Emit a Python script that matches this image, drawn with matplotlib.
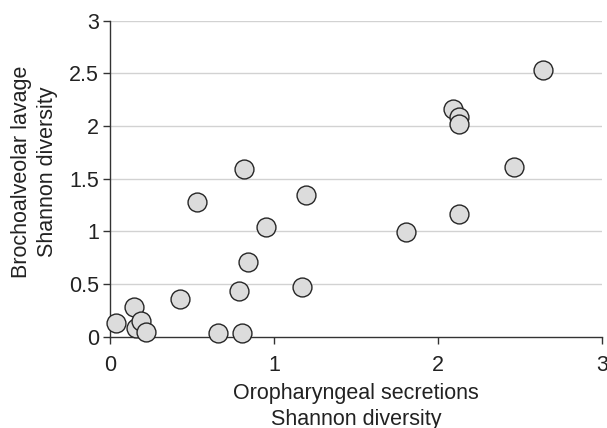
import matplotlib
matplotlib.use("Agg")
import matplotlib.pyplot as plt

oro = [0.036, 0.147, 0.16, 0.19, 0.22, 0.43, 0.53, 0.66, 0.806, 0.79, 0.818, 0.84, 0.95,
       1.17, 1.195, 1.805, 2.094, 2.127, 2.132, 2.132, 2.464, 2.64]
bal = [0.133, 0.285, 0.085, 0.15, 0.047, 0.354, 1.275, 0.038, 0.038, 0.434, 1.59, 0.712, 1.044,
       0.468, 1.345, 0.99, 2.158, 2.09, 2.019, 1.165, 1.614, 2.533]
xticks = [0, 1, 2, 3]
yticks = [0, 0.5, 1, 1.5, 2, 2.5, 3]
ytick_labels = ["0", "0.5", "1", "1.5", "2", "2.5", "3"]

plt.rcParams['font.family'] = ['Liberation Sans', 'DejaVu Sans']
W, H = 607, 428
fig = plt.figure(figsize=(W/100, H/100), dpi=100)
x0, x1, y0, y1 = 110, 601.7, 336.7, 20.7
ax = fig.add_axes([x0/W, 1-y0/H, (x1-x0)/W, (y0-y1)/H])
ax.set_xlim(0, 3)
ax.set_ylim(0, 3)
ax.set_xticks(xticks)
ax.set_xticklabels([str(t) for t in xticks])
ax.set_yticks(yticks)
ax.set_yticklabels(ytick_labels)
for t in yticks[1:]:
    ax.axhline(t, color='#d2d2d2', lw=1.0, zorder=0)
ax.scatter(oro, bal, s=185, facecolor='#dcdcdc', edgecolor='#262626', linewidths=1.0, zorder=3, clip_on=False)
for s in ['top', 'right']:
    ax.spines[s].set_visible(False)
for s in ['left', 'bottom']:
    ax.spines[s].set_color('#333333')
    ax.spines[s].set_linewidth(1.0)
ax.tick_params(direction='out', length=5, width=1, color='#333333', labelsize=15.5, labelcolor='#222222', pad=3)
ax.tick_params(axis='x', pad=8)
ax.set_xlabel("Oropharyngeal secretions\nShannon diversity", fontsize=15.5, color='#222222', linespacing=1.25)
ax.set_ylabel("Brochoalveolar lavage\nShannon diversity", fontsize=15.5, color='#222222', linespacing=1.3)
ax.xaxis.set_label_coords(0.5, (y0-383.5)/(y0-y1))
ax.yaxis.set_label_coords((58-x0)/(x1-x0), (y0-172)/(y0-y1))
fig.savefig("out.png", dpi=100)
